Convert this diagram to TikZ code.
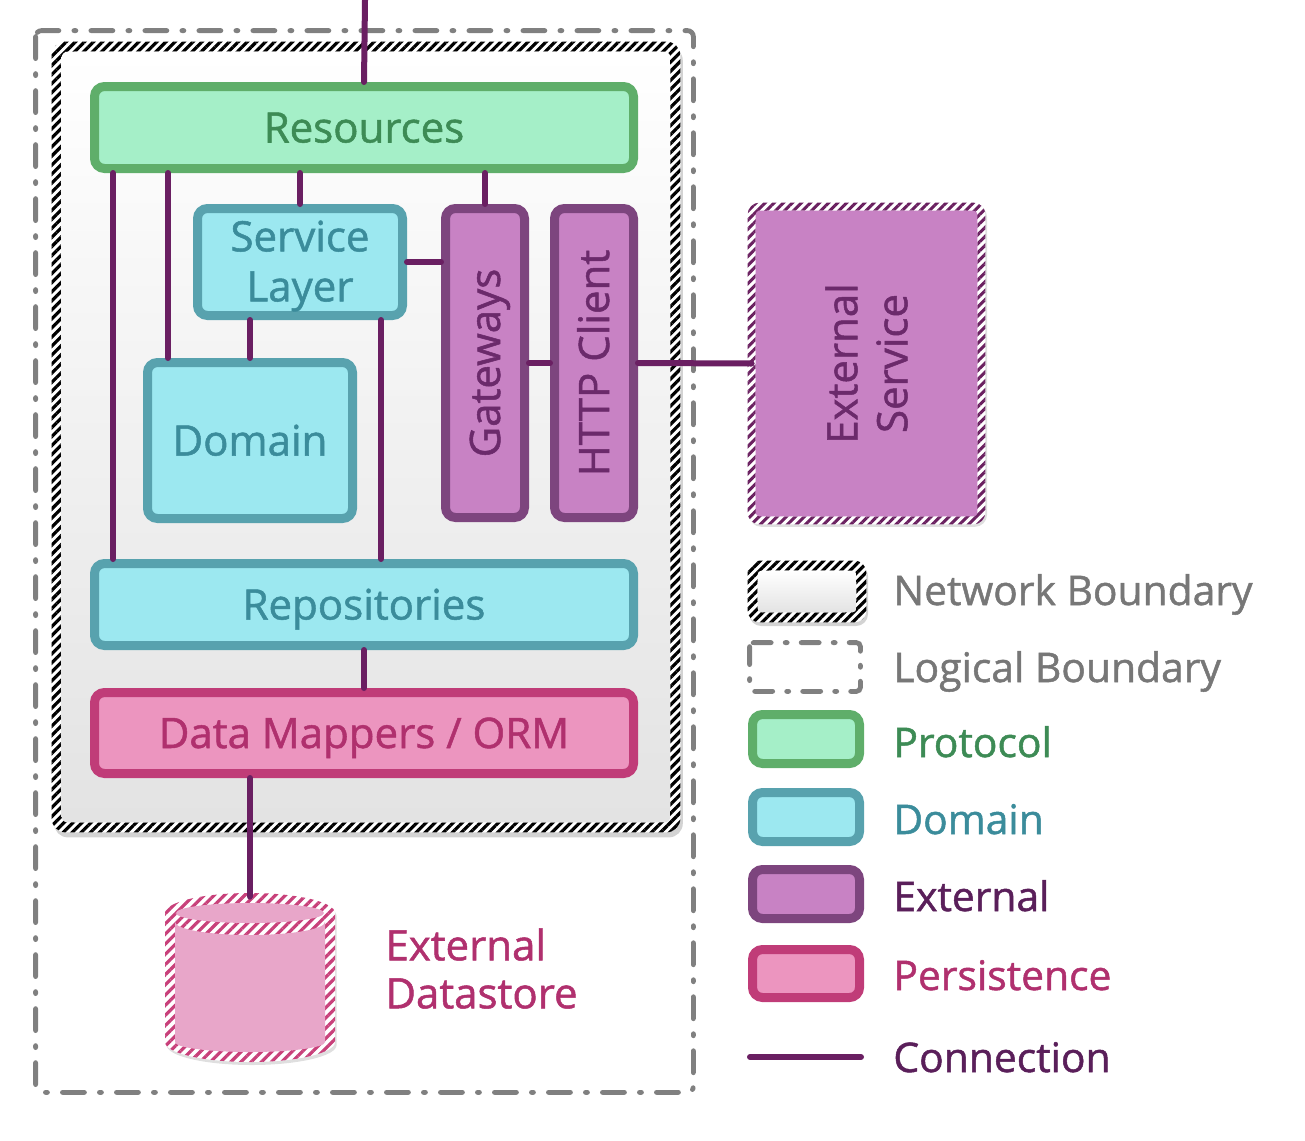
\documentclass[tikz,border=0pt]{standalone}
\usepackage{fontspec}
\setmainfont{Open Sans}[FakeBold=1.2,AutoFakeBold=1.2]
\usetikzlibrary{patterns.meta,fit,shadows,backgrounds}
\definecolor{protoFill}{HTML}{A5EFC8}
\definecolor{protoLine}{HTML}{5FAE6A}
\definecolor{protoText}{HTML}{3D8B55}
\definecolor{domFill}{HTML}{9CE8F0}
\definecolor{domLine}{HTML}{58A2AE}
\definecolor{domText}{HTML}{3B8C9B}
\definecolor{extFill}{HTML}{C882C4}
\definecolor{extLine}{HTML}{7D457E}
\definecolor{extText}{HTML}{6B2A6B}
\definecolor{perFill}{HTML}{EC95BF}
\definecolor{perLine}{HTML}{C03C78}
\definecolor{perText}{HTML}{B0306E}
\definecolor{connC}{HTML}{6A1F62}
\definecolor{cylFill}{HTML}{E8A6C9}
\definecolor{cylHatch}{HTML}{C8407A}
\definecolor{esHatch}{HTML}{6A2060}
\definecolor{logGray}{HTML}{808080}
\definecolor{legGray}{HTML}{777777}
\definecolor{legExt}{HTML}{5A1F5A}
\tikzset{
  lbl/.style={font=\fontsize{21}{25}\selectfont},
  capc/.style={lbl, text height=15pt, text depth=0pt, inner sep=0pt},
  box/.style={rounded corners=5pt, line width=4.5pt, inner sep=0pt},
  protobox/.style={box, draw=protoLine, fill=protoFill},
  dombox/.style={box, draw=domLine, fill=domFill},
  extbox/.style={box, draw=extLine, fill=extFill},
  perbox/.style={box, draw=perLine, fill=perFill},
  conn/.style={draw=connC, line width=3pt, line cap=round},
  hatchblack/.style={pattern={Lines[angle=45,distance=3.2pt,line width=1.6pt]}, pattern color=black},
  hatches/.style={pattern={Lines[angle=45,distance=3.2pt,line width=1.5pt]}, pattern color=esHatch},
  hatchcyl/.style={pattern={Lines[angle=45,distance=3.6pt,line width=1.6pt]}, pattern color=cylHatch},
  logline/.style={draw=logGray, line width=2.4pt, line cap=round, dash pattern=on 11pt off 7.5pt on 1pt off 7.5pt},
  legtext/.style={font=\fontsize{20.4}{24}\selectfont, anchor=base west, inner sep=0pt},
  shad/.style={drop shadow={opacity=0.25, shadow xshift=0.8pt, shadow yshift=-1.2pt}},
}
\begin{document}
\begin{tikzpicture}[x=0.5pt,y=-0.5pt]
\useasboundingbox (0,0) rectangle (1305,1140);

% ---------- boundaries (frames) ----------
\node (logic) [fit={(36,31)(693,1092)}, inner sep=0pt] {};
\node (net) [fit={(52,42)(680,832)}, inner sep=0pt] {};

% ---------- boxes ----------
\node (res) [protobox, fit={(94.5,86.5)(633.5,168.5)},
  label={[capc, text=protoText]center:Resources}] {};
\node (sl) [dombox, fit={(197.5,208.5)(402.5,315.5)},
  label={[lbl, text=domText, align=center, inner sep=0pt, yshift=-2pt]center:Service\\Layer}] {};
\node (dom) [dombox, fit={(147.5,362.5)(352.5,518.5)},
  label={[capc, text=domText]center:Domain}] {};
\node (gw) [extbox, fit={(445.5,208.5)(524.5,517.5)},
  label={[capc, rotate=90, text=extText]center:Gateways}] {};
\node (hc) [extbox, fit={(554.5,208.5)(633.5,517.5)},
  label={[capc, rotate=90, text=extText]center:HTTP Client}] {};
\node (rep) [dombox, fit={(94.5,563.5)(633.5,645.5)},
  label={[capc, text=domText]center:Repositories}] {};
\node (dm) [perbox, fit={(94.5,692.5)(633.5,773.5)},
  label={[capc, text=perText]center:Data Mappers / ORM}] {};

% external service
\node (es) [fit={(748,203)(985,524)}, inner sep=0pt,
  label={[rotate=90, lbl, text=extText, align=center, inner sep=0pt]center:External\\Service}] {};

% datastore
\node (cyl) [fit={(165,893)(335,1062)}, inner sep=0pt] {};
\node (dstxt) [lbl, text=perText, align=left, anchor=north west, inner sep=0pt,
  font=\fontsize{21}{24}\selectfont] at (385,928) {External\\Datastore};

% ---------- legend ----------
\node (lgnet) [fit={(748,561)(866,622)}, inner sep=0pt] {};
\node (lglog) [fit={(750,643)(860,691)}, inner sep=0pt] {};
\node (lgpro) [protobox, shad, fit={(752.5,714.5)(859.5,763.5)}] {};
\node (lgdom) [dombox, shad, fit={(752.5,792.5)(859.5,841.5)}] {};
\node (lgext) [extbox, shad, fit={(752.5,869.5)(859.5,918.5)}] {};
\node (lgper) [perbox, shad, fit={(752.5,949.5)(859.5,997.5)}] {};
\coordinate (lgc1) at (750,1057);
\coordinate (lgc2) at (861,1057);

\node (t1) [legtext, text=legGray] at (893,605) {Network Boundary};
\node (t2) [legtext, text=legGray] at (893,682) {Logical Boundary};
\node (t3) [legtext, text=protoText] at (893,757) {Protocol};
\node (t4) [legtext, text=domText] at (893,834) {Domain};
\node (t5) [legtext, text=legExt] at (893,911) {External};
\node (t6) [legtext, text=perText] at (893,990) {Persistence};
\node (t7) [legtext, text=legExt] at (893,1072) {Connection};

% ---------- background drawings ----------
\begin{scope}[on background layer]
  % logical boundary
  \draw[logline, rounded corners=3pt] (logic.north west) rectangle (logic.south east);
  % network boundary
  \fill[white, rounded corners=7pt, drop shadow={opacity=0.35, shadow xshift=1.2pt, shadow yshift=-2.5pt}]
    (net.north west) rectangle (net.south east);
  \fill[hatchblack, even odd rule, rounded corners=7pt]
    (net.north west) rectangle (net.south east)
    ([xshift=5pt,yshift=-5pt]net.north west) rectangle ([xshift=-5pt,yshift=5pt]net.south east);
  \shade[top color=white, bottom color=black!11, rounded corners=3pt]
    ([xshift=5pt,yshift=-5pt]net.north west) rectangle ([xshift=-5pt,yshift=5pt]net.south east);
  % external service
  \fill[white, rounded corners=6pt, drop shadow={opacity=0.25, shadow xshift=0.8pt, shadow yshift=-1.2pt}]
    (es.north west) rectangle (es.south east);
  \fill[hatches, even odd rule, rounded corners=6pt]
    (es.north west) rectangle (es.south east)
    ([xshift=4pt,yshift=-4pt]es.north west) rectangle ([xshift=-4pt,yshift=4pt]es.south east);
  \fill[extFill, rounded corners=2pt]
    ([xshift=4pt,yshift=-4pt]es.north west) rectangle ([xshift=-4pt,yshift=4pt]es.south east);
  % cylinder
  \fill[white, drop shadow={opacity=0.25, shadow xshift=0.8pt, shadow yshift=-1.5pt}]
    (165,913) arc[start angle=180, end angle=360, x radius=85, y radius=20]
    -- (335,1042) arc[start angle=0, end angle=180, x radius=85, y radius=20] -- cycle;
  \fill[hatchcyl]
    (165,913) arc[start angle=180, end angle=360, x radius=85, y radius=20]
    -- (335,1042) arc[start angle=0, end angle=180, x radius=85, y radius=20] -- cycle;
  \fill[cylFill] (250,913) ellipse[x radius=74, y radius=10];
  \fill[cylFill]
    (175,922) arc[start angle=180, end angle=0, x radius=75, y radius=13]
    -- (325,1042) arc[start angle=0, end angle=180, x radius=75, y radius=10] -- cycle;
  % legend network boundary
  \fill[white, rounded corners=6pt, drop shadow={opacity=0.35, shadow xshift=0.8pt, shadow yshift=-1.8pt}]
    (lgnet.north west) rectangle (lgnet.south east);
  \fill[hatchblack, even odd rule, rounded corners=6pt]
    (lgnet.north west) rectangle (lgnet.south east)
    ([xshift=5pt,yshift=-5pt]lgnet.north west) rectangle ([xshift=-5pt,yshift=5pt]lgnet.south east);
  \shade[top color=white, bottom color=black!11, rounded corners=2pt]
    ([xshift=5pt,yshift=-5pt]lgnet.north west) rectangle ([xshift=-5pt,yshift=5pt]lgnet.south east);
  % legend logical boundary
  \draw[logline, dash pattern=on 9pt off 7pt on 1pt off 7pt, rounded corners=2pt]
    (lglog.north west) rectangle (lglog.south east);
\end{scope}

% ---------- connections ----------
\coordinate (top) at (365,0);
\coordinate (xa) at (113,0);
\coordinate (xb) at (168,0);
\coordinate (xc) at (381,0);
\draw[conn] (top) -- (res.north);
\draw[conn] (res.south -| xa) -- (rep.north -| xa);
\draw[conn] (res.south -| xb) -- (dom.north -| xb);
\draw[conn] (res.south -| sl.north) -- (sl.north);
\draw[conn] (res.south -| gw.north) -- (gw.north);
\draw[conn] (sl.east) -- (sl.east -| gw.west);
\draw[conn] (dom.north |- sl.south) -- (dom.north);
\draw[conn] (sl.south -| xc) -- (rep.north -| xc);
\draw[conn] (gw.east) -- (hc.west);
\draw[conn] (hc.east) -- ([xshift=2pt]es.west);
\draw[conn] (rep.south) -- (dm.north);
\draw[conn] (dm.south -| cyl.north) -- ([yshift=-2pt]cyl.north);
\draw[conn] (lgc1) -- (lgc2);
\end{tikzpicture}
\end{document}
